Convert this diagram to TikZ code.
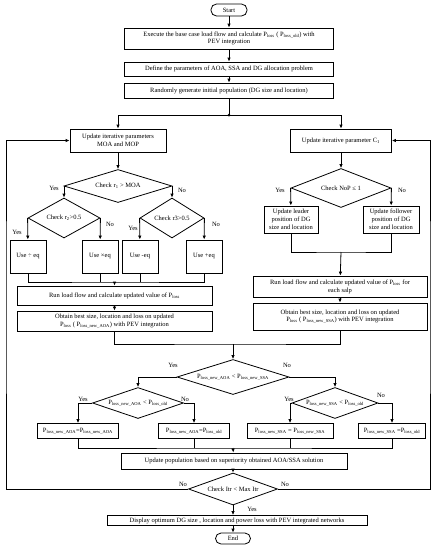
\documentclass[tikz,border=0pt]{standalone}
\usepackage{fontspec}
\setmainfont{Liberation Serif}
\usetikzlibrary{shapes.geometric,arrows.meta}
\newcommand{\Ps}[1]{P\textsubscript{#1}}
\tikzset{
  box/.style={draw,line width=0.8pt,align=center,inner sep=1pt},
  term/.style={draw,line width=0.8pt,rounded corners=5.5pt,inner sep=1pt},
  dia/.style={draw,line width=0.8pt,diamond,inner sep=0pt},
  arr/.style={line width=0.8pt,-{Latex[length=4pt,width=3.5pt]}},
  lnk/.style={line width=0.8pt},
  lab/.style={inner sep=0pt}
}

\begin{document}
\begin{tikzpicture}[x=1pt,y=-1pt,every node/.style={font=\fontsize{6.5}{7.8}\selectfont}]
\useasboundingbox (0,0) rectangle (437,550);
\node[term,minimum width=36pt,minimum height=12pt] (start) at (229,10) {Start};
\node[box,minimum width=209pt,minimum height=21pt] (base) at (229,38.5) {Execute the base case load flow and calculate \Ps{loss} ( \Ps{loss\_old}) with\\PEV integration};
\node[box,minimum width=209pt,minimum height=14pt] (param) at (229,69) {Define the parameters of AOA, SSA and DG allocation problem};
\node[box,minimum width=209pt,minimum height=15pt] (init) at (229,90.5) {Randomly generate initial population (DG size and location)};
\draw[arr] (start) -- (base);
\draw[arr] (base) -- (param);
\draw[arr] (param) -- (init);
\coordinate (split) at (229,115);

\node[box,minimum width=96pt,minimum height=23pt] (moa) at (118,140.5) {Update iterative parameters\\MOA and MOP};
\node[dia,minimum width=108pt,minimum height=33pt,label=center:{Check r\textsubscript{1} > MOA}] (r1) at (118,186) {};
\node[dia,minimum width=72pt,minimum height=40pt,label=center:{Check r\textsubscript{2}>0.5}] (r2) at (64,218) {};
\node[dia,minimum width=64pt,minimum height=40pt,label=center:{Check r3>0.5}] (r3) at (172,218) {};
\node[box,minimum width=36pt,minimum height=33pt] (divq) at (28,256.5) {Use ÷ eq};
\node[box,minimum width=36pt,minimum height=33pt] (mulq) at (100,256.5) {Use ×eq};
\node[box,minimum width=36pt,minimum height=33pt] (subq) at (140,256.5) {Use -eq};
\node[box,minimum width=36pt,minimum height=33pt] (addq) at (204,256.5) {Use +eq};
\node[box,minimum width=195pt,minimum height=19pt] (runA) at (114.5,295.5) {Run load flow and calculate updated value of \Ps{loss}};
\node[box,minimum width=195pt,minimum height=20pt] (bestA) at (114.5,321) {Obtain best size, location and loss on updated\\\Ps{loss} ( \Ps{loss\_new\_AOA}) with PEV integration};

\node[box,minimum width=101pt,minimum height=23pt] (c1) at (341,140.5) {Update iterative parameter C\textsubscript{1}};
\node[dia,minimum width=100pt,minimum height=39pt,label=center:{Check NoP ≤ 1}] (nop) at (341,188) {};
\node[box,minimum width=54pt,minimum height=27pt] (lead) at (291,219.5) {Update leader\\position of DG\\size and location};
\node[box,minimum width=56pt,minimum height=27pt] (foll) at (391,219.5) {Update follower\\position of DG\\size and location};
\node[box,minimum width=174pt,minimum height=21pt] (runS) at (340,286.5) {Run load flow and calculate updated value of \Ps{loss} for\\each salp};
\node[box,minimum width=174pt,minimum height=27pt] (bestS) at (340,316.5) {Obtain best size, location and loss on updated\\\Ps{loss} ( \Ps{loss\_new\_SSA}) with PEV integration};

\node[dia,minimum width=112pt,minimum height=35pt,label=center:{\Ps{loss\_new\_AOA} < \Ps{loss\_new\_SSA}}] (cmp) at (233,377) {};
\node[dia,minimum width=91pt,minimum height=31pt,label=center:{\Ps{loss\_new\_AOA} < \Ps{loss\_old}}] (cmpA) at (138,403) {};
\node[dia,minimum width=86pt,minimum height=31pt,label=center:{\Ps{loss\_new\_SSA} < \Ps{loss\_old}}] (cmpS) at (335,403) {};
\node[box,minimum width=81pt,minimum height=15pt] (keepA) at (78,431) {\Ps{loss\_new\_AOA}=\Ps{loss\_new\_AOA}};
\node[box,minimum width=71pt,minimum height=15pt] (oldA) at (194,431) {\Ps{loss\_new\_AOA}=\Ps{loss\_old}};
\node[box,minimum width=86pt,minimum height=15pt] (keepS) at (290,431) {\Ps{loss\_new\_SSA} = \Ps{loss\_new\_SSA}};
\node[box,minimum width=67pt,minimum height=15pt] (oldS) at (392,431) {\Ps{loss\_new\_SSA} =\Ps{loss\_old}};
\node[box,minimum width=226pt,minimum height=16pt] (upd) at (234,461) {Update population based on superiority obtained AOA/SSA solution};
\node[dia,minimum width=89pt,minimum height=32pt,label=center:{Check Itr < Max Itr}] (itr) at (233,489) {};
\node[box,minimum width=260pt,minimum height=10pt] (disp) at (237,520.5) {Display optimum DG size , location and power loss with PEV integrated networks};
\node[term,minimum width=35pt,minimum height=11pt] (end) at (233,538.5) {End};

\node[lab] (yr1) at (54,188) {Yes};
\node[lab] (nr1) at (182,190) {No};
\node[lab] (yr2) at (17,232) {Yes};
\node[lab] (nr2) at (110,224) {No};
\node[lab] (yr3) at (133,228) {Yes};
\node[lab] (nr3) at (216,224) {No};
\node[lab] (ynop) at (280,190) {Yes};
\node[lab] (nnop) at (402,190) {No};
\node[lab] (ycmp) at (173,365) {Yes};
\node[lab] (ncmp) at (287,365) {No};
\node[lab] (ycA) at (83,399) {Yes};
\node[lab] (ncA) at (185,399) {No};
\node[lab] (ycS) at (289,399) {Yes};
\node[lab] (ncS) at (381,395) {No};
\node[lab] (nitl) at (183,484) {No};
\node[lab] (nitr) at (285,484) {No};
\node[lab] (yitr) at (252,509) {Yes};

\draw[lnk] (init) -- (split);
\fill (split) circle (1.5pt);
\draw[arr] (split) -| (moa);
\draw[arr] (split) -| (c1);
\draw[arr] (moa) -- (r1);
\draw[arr] (r1.west) -| (r2);
\draw[arr] (r1.east) -| (r3);
\draw[arr] (r2.west) -- (divq);
\draw[arr] (r2.east) -- (mulq);
\draw[arr] (r3.west) -- (subq);
\draw[arr] (r3.east) -- (addq);
\coordinate (jA) at (114.5,282);
\draw[lnk] (divq) |- (jA) -| (addq);
\draw[lnk] (mulq) -- (mulq |- jA);
\draw[lnk] (subq) -- (subq |- jA);
\draw[arr] (jA) -- (runA);
\draw[arr] (runA) -- (bestA);
\draw[arr] (c1) -- (nop);
\draw[arr] (nop.west) -- (lead);
\draw[arr] (nop.east) -- (foll);
\coordinate (jD) at (341,252);
\draw[lnk] (lead) |- (jD) -| (foll);
\draw[arr] (jD) -- (runS);
\draw[arr] (runS) -- (bestS);
\coordinate (jC) at (233,344);
\draw[lnk] (bestA) |- (jC) -| (bestS);
\draw[arr] (jC) -- (cmp);
\draw[arr] (cmp.west) -| (cmpA);
\draw[arr] (cmp.east) -| (cmpS);
\draw[arr] (cmpA.west) -| (keepA);
\draw[arr] (cmpA.east) -| (oldA);
\draw[arr] (cmpS.west) -| (keepS);
\draw[arr] (cmpS.east) -| (oldS);
\coordinate (jB) at (233,448);
\draw[lnk] (keepA) |- (jB) -| (oldS);
\draw[lnk] (oldA) -- (oldA |- jB);
\draw[lnk] (keepS) -- (keepS |- jB);
\draw[arr] (jB) -- (upd);
\draw[arr] (upd.south -| itr) -- (itr);
\draw[arr] (itr) -- (disp.north -| itr);
\draw[arr] (disp.south -| end) -- (end);
\coordinate (lloop) at (6,300);
\coordinate (rloop) at (430,300);
\draw[arr] (itr.west) -| (lloop) |- (moa);
\draw[arr] (itr.east) -| (rloop) |- (c1);
\end{tikzpicture}
\end{document}
